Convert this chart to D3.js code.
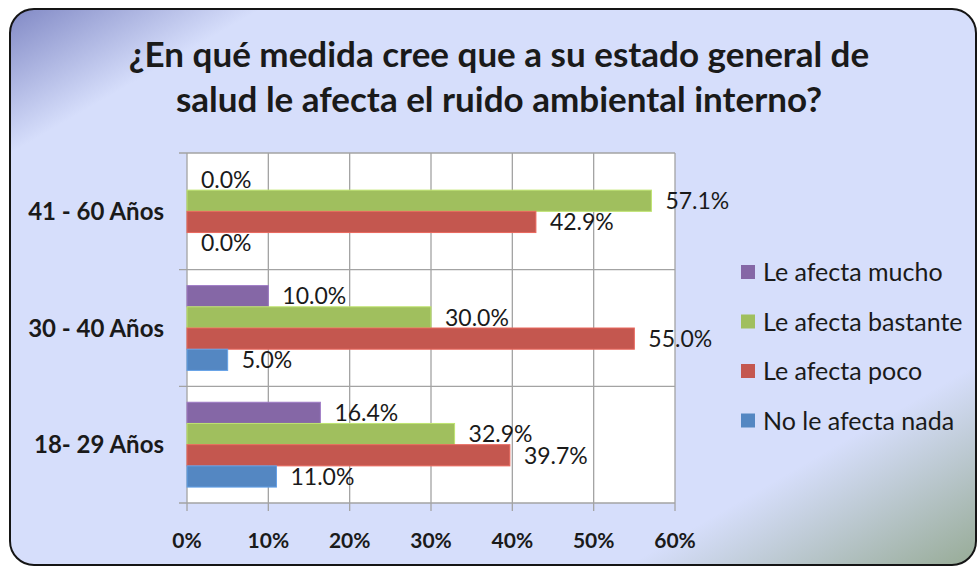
<!DOCTYPE html>
<html>
<head>
<meta charset="utf-8">
<script src="https://cdn.jsdelivr.net/npm/d3@7"></script>
<style>
  html, body { margin: 0; padding: 0; background: #ffffff; }
  svg { display: block; }
  text { font-family: Lato, "Open Sans", sans-serif; fill: #1a1a1a; }
</style>
</head>
<body>
<svg id="chart" width="978" height="568"></svg>
<script>
// Age groups (bottom to top as listed)
const categories = ["18- 29 Años", "30 - 40 Años", "41 - 60 Años"];
// Series shown in the legend, top to bottom
const seriesNames = ["Le afecta mucho", "Le afecta bastante", "Le afecta poco", "No le afecta nada"];
// Percent values per age group, same order as categories
const mucho    = [16.4, 10.0, 0.0];
const bastante = [32.9, 30.0, 57.1];
const poco     = [39.7, 55.0, 42.9];
const nada     = [11.0, 5.0, 0.0];
const xTicks = [0, 10, 20, 30, 40, 50, 60];
const xTickLabels = ["0%", "10%", "20%", "30%", "40%", "50%", "60%"];
const titleLines = ["¿En qué medida cree que a su estado general de",
                    "salud le afecta el ruido ambiental interno?"];
const colors = ["#8567a6", "#a0bf5e", "#c4574f", "#5487c2"];

const seriesValues = [mucho, bastante, poco, nada];
const rows = [];
categories.forEach((c, ci) => {
  seriesNames.forEach((s, si) => rows.push({ cat: c, series: s, value: seriesValues[si][ci], si }));
});

const svg = d3.select("#chart");
const defs = svg.append("defs");

// Frame fill: lavender with a darker top-left corner and a grey-green bottom-right corner
const grad = defs.append("linearGradient")
  .attr("id", "frameFill").attr("x1", 0).attr("y1", 0).attr("x2", 1).attr("y2", 1);
grad.append("stop").attr("offset", 0).attr("stop-color", "#8189c5");
grad.append("stop").attr("offset", 0.13).attr("stop-color", "#d6defb");
grad.append("stop").attr("offset", 0.82).attr("stop-color", "#d6defb");
grad.append("stop").attr("offset", 1).attr("stop-color", "#97ab96");

svg.append("rect")
  .attr("x", 10).attr("y", 9).attr("width", 966).attr("height", 556)
  .attr("rx", 24).attr("ry", 24)
  .attr("fill", "url(#frameFill)")
  .attr("stroke", "#151515").attr("stroke-width", 2);

// Title
svg.append("g").selectAll("text").data(titleLines).join("text")
  .attr("x", 499).attr("y", (d, i) => 67 + i * 45)
  .attr("text-anchor", "middle")
  .attr("font-size", 35).attr("font-weight", 700)
  .text(d => d);

// Plot area
const plot = { left: 187, right: 675, top: 153, bottom: 503 };
const x = d3.scaleLinear().domain([0, 60]).range([plot.left, plot.right]);
const y = d3.scaleBand().domain(categories.slice().reverse()).range([plot.top, plot.bottom]).padding(0);
const yInner = d3.scaleBand().domain(seriesNames).range([0, y.bandwidth()])
  .paddingInner(0).paddingOuter(0.75);

svg.append("rect")
  .attr("x", plot.left).attr("y", plot.top)
  .attr("width", plot.right - plot.left).attr("height", plot.bottom - plot.top)
  .attr("fill", "#ffffff");

const gridColor = "#a3a3a3";
// Vertical gridlines (with tick marks below the axis)
svg.append("g").selectAll("line").data(xTicks).join("line")
  .attr("x1", d => x(d)).attr("x2", d => x(d))
  .attr("y1", plot.top).attr("y2", plot.bottom + 8)
  .attr("stroke", gridColor).attr("stroke-width", 1.3);

// Category separators (with tick marks left of the axis)
const sepYs = [plot.top].concat(categories.map(c => y(c) + y.bandwidth()));
svg.append("g").selectAll("line").data(sepYs).join("line")
  .attr("x1", plot.left - 8).attr("x2", plot.right)
  .attr("y1", d => d).attr("y2", d => d)
  .attr("stroke", gridColor).attr("stroke-width", 1.3);

// Bars
svg.append("g").selectAll("rect").data(rows).join("rect")
  .attr("x", x(0))
  .attr("y", d => y(d.cat) + yInner(d.series))
  .attr("width", d => x(d.value) - x(0))
  .attr("height", yInner.bandwidth())
  .attr("fill", d => colors[d.si])
  .attr("stroke", d => d3.color(colors[d.si]).brighter(0.5))
  .attr("stroke-width", d => d.value > 0 ? 1 : 0);

// Value labels
svg.append("g").selectAll("text").data(rows).join("text")
  .attr("x", d => x(d.value) + 14)
  .attr("y", d => y(d.cat) + yInner(d.series) + yInner.bandwidth() / 2)
  .attr("dy", "0.36em")
  .attr("font-size", 23)
  .text(d => d.value.toFixed(1) + "%");

// Category axis labels
svg.append("g").selectAll("text").data(categories).join("text")
  .attr("x", 164).attr("y", d => y(d) + y.bandwidth() / 2)
  .attr("dy", "0.36em").attr("text-anchor", "end")
  .attr("font-size", 24).attr("font-weight", 700)
  .text(d => d);

// Value axis labels
svg.append("g").selectAll("text").data(xTicks).join("text")
  .attr("x", d => x(d)).attr("y", 540)
  .attr("dy", "0.36em").attr("text-anchor", "middle")
  .attr("font-size", 21).attr("font-weight", 700)
  .text((d, i) => xTickLabels[i]);

// Legend
const legend = svg.append("g").selectAll("g").data(seriesNames).join("g")
  .attr("transform", (d, i) => `translate(741, ${272 + i * 49.5})`);
legend.append("rect")
  .attr("x", 0).attr("y", -7).attr("width", 14).attr("height", 14)
  .attr("fill", (d, i) => colors[i]);
legend.append("text")
  .attr("x", 22).attr("y", 0).attr("dy", "0.36em")
  .attr("font-size", 25)
  .text(d => d);
</script>
</body>
</html>
